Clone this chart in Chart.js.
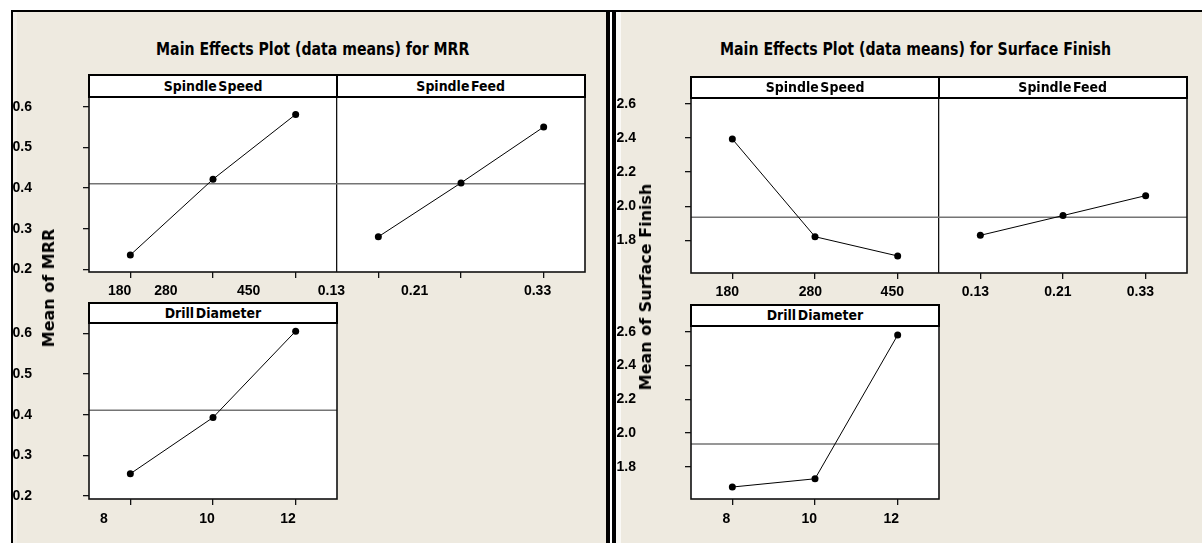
<!DOCTYPE html>
<html><head><meta charset="utf-8">
<script src="https://cdn.jsdelivr.net/npm/chart.js@4/dist/chart.umd.min.js"></script>
<style>
html,body{margin:0;padding:0;background:#fff;}
body{width:1202px;height:543px;overflow:hidden;position:relative;font-family:"DejaVu Sans",sans-serif;}
.abs{position:absolute;box-sizing:border-box;}
#bg{left:11px;top:10px;width:1191px;height:533px;background:#EEEAE0;border-top:2px solid #000;border-left:2px solid #000;z-index:0;}
.strip{z-index:1;}
.hdr{z-index:3;background:#fff;border:2px solid #000;font-weight:bold;font-size:13.5px;text-align:center;color:#000;white-space:nowrap;}
.hdr span{display:inline-block;transform:scaleX(0.93);word-spacing:-3px;}
.title{z-index:3;font-weight:bold;font-size:17px;line-height:17px;height:17px;text-align:center;white-space:nowrap;color:#000;}
.title span{display:inline-block;transform:scaleX(0.83);}
.ytitle{z-index:3;font-weight:bold;font-size:16px;line-height:16px;white-space:nowrap;color:#000;transform:translate(-50%,-50%) rotate(-90deg);}
</style></head>
<body>
<div id="bg" class="abs"></div>
<div class="abs strip" style="left:13px;top:12px;width:4px;height:531px;background:#F3F0EA"></div>
<div class="abs strip" style="left:606px;top:10px;width:4px;height:533px;background:#000"></div>
<div class="abs strip" style="left:610px;top:12px;width:2px;height:531px;background:#fff"></div>
<div class="abs strip" style="left:612px;top:10px;width:4px;height:533px;background:#000"></div>
<div class="abs strip" style="left:616px;top:12px;width:5px;height:531px;background:#FAF9F6"></div>
<script>
// ---------------- data ----------------
const factorNames = ['Spindle Speed', 'Spindle Feed', 'Drill Diameter'];
const speedLevels = ['180', '280', '450'];
const feedLevels = ['0.13', '0.21', '0.33'];
const diameterLevels = ['8', '10', '12'];

const mrrSpeed = [0.235, 0.422, 0.582];
const mrrFeed = [0.280, 0.413, 0.551];
const mrrDiameter = [0.255, 0.393, 0.605];
const mrrMean = 0.411;
const mrrTicks = [0.2, 0.3, 0.4, 0.5, 0.6];

const sfSpeed = [2.394, 1.821, 1.708];
const sfFeed = [1.829, 1.945, 2.062];
const sfDiameter = [1.679, 1.728, 2.581];
const sfMean = 1.935;
const sfTicks = [1.8, 2.0, 2.2, 2.4, 2.6];

const titleMRR = 'Main Effects Plot (data means) for MRR';
const titleSF = 'Main Effects Plot (data means) for Surface Finish';
const yTitleMRR = 'Mean of MRR';
const yTitleSF = 'Mean of Surface Finish';

// ---------------- layout (positions of the misplaced level labels, in axis units) ----------------
const layout = {
  mrrTopLabelAt: [0.870, 1.431, 2.432, 3.433, 4.439, 5.926],
  mrrBotLabelAt: [0.681, 1.927, 2.907],
  sfTopLabelAt: [0.939, 1.944, 2.935, 3.940, 4.938, 5.937],
  sfBotLabelAt: [0.927, 1.930, 2.923]
};

Chart.defaults.font.family = '"Liberation Sans", Arial, sans-serif';
Chart.defaults.font.weight = 'bold';
Chart.defaults.font.size = 14;
Chart.defaults.color = '#000';

const plotBox = {
  id: 'plotBox',
  beforeDraw(chart) {
    const {ctx, chartArea: a} = chart;
    ctx.save(); ctx.fillStyle = '#fff';
    ctx.fillRect(a.left, a.top, a.right - a.left, a.bottom - a.top);
    ctx.restore();
  },
  afterDraw(chart) {
    const {ctx, chartArea: a} = chart;
    ctx.save(); ctx.strokeStyle = '#111'; ctx.lineWidth = 1.6;
    ctx.strokeRect(a.left, a.top, a.right - a.left, a.bottom - a.top);
    ctx.restore();
  }
};

function addDiv(cls, style, text) {
  const d = document.createElement('div');
  d.className = 'abs ' + cls;
  d.style.cssText = style;
  const s = document.createElement('span');
  s.textContent = text;
  d.appendChild(s);
  document.body.appendChild(d);
  return d;
}

function noPad(s) { s.paddingTop = 0; s.paddingBottom = 0; s.paddingLeft = 0; s.paddingRight = 0; }

function makeRow(cfg) {
  const r = cfg.rect, a = cfg.area;
  const cv = document.createElement('canvas');
  cv.width = r.w; cv.height = r.h;
  cv.style.cssText = `position:absolute;left:${r.x}px;top:${r.y}px;width:${r.w}px;height:${r.h}px;z-index:2;`;
  document.body.appendChild(cv);
  const nPanels = cfg.panels.length;
  const xMin = 0.5, xMax = nPanels * 3 + 0.5;
  const pointTicks = [];
  const dividers = [];
  const datasets = [];
  cfg.panels.forEach((vals, pi) => {
    datasets.push({
      data: vals.map((v, i) => ({x: pi * 3 + i + 1, y: v})),
      borderColor: '#000', backgroundColor: '#000', borderWidth: 1,
      pointRadius: 3.5, pointBorderWidth: 0, pointHoverRadius: 3.5, order: 1, clip: false
    });
    vals.forEach((v, i) => pointTicks.push(pi * 3 + i + 1));
    if (pi > 0) dividers.push(pi * 3 + 0.5);
  });
  datasets.push({
    data: [{x: xMin, y: cfg.mean}, {x: xMax, y: cfg.mean}],
    borderColor: '#747474', borderWidth: 1.5, pointRadius: 0, pointHoverRadius: 0, order: 2
  });
  const xTickVals = pointTicks.concat(dividers).sort((p, q) => p - q);
  new Chart(cv, {
    type: 'line',
    data: {datasets},
    plugins: [plotBox],
    options: {
      responsive: false, animation: false, devicePixelRatio: 1, events: [],
      layout: {padding: {left: 0, top: a.top - r.y, right: r.x + r.w - a.right, bottom: 0}},
      plugins: {legend: {display: false}, tooltip: {enabled: false}, title: {display: false}},
      scales: {
        y: {
          type: 'linear', position: 'left', min: cfg.yMin, max: cfg.yMax,
          afterFit: s => { s.width = a.left - r.x; noPad(s); },
          afterBuildTicks: s => { s.ticks = cfg.yTicks.map(v => ({value: v})); },
          ticks: {padding: cfg.yPad, callback: v => Number(v).toFixed(1), autoSkip: false},
          grid: {drawOnChartArea: false, drawTicks: true, tickLength: 6, color: '#111', lineWidth: 1.3},
          border: {display: false}
        },
        x: {
          type: 'linear', position: 'bottom', min: xMin, max: xMax, weight: 0,
          afterFit: s => { s.height = 6; noPad(s); },
          afterBuildTicks: s => { s.ticks = xTickVals.map(v => ({value: v})); },
          ticks: {display: false, autoSkip: false},
          grid: {
            drawOnChartArea: true, drawTicks: true, tickLength: 6, lineWidth: 1.3,
            color: c => (c.tick && dividers.includes(c.tick.value)) ? '#111' : 'rgba(0,0,0,0)',
            tickColor: c => (c.tick && dividers.includes(c.tick.value)) ? 'rgba(0,0,0,0)' : '#111'
          },
          border: {display: false}
        },
        xl: {
          type: 'linear', position: 'bottom', min: xMin, max: xMax, weight: 1,
          afterFit: s => { s.height = r.y + r.h - a.bottom - 6; noPad(s); },
          afterBuildTicks: s => { s.ticks = cfg.labelAt.map(v => ({value: v})); },
          ticks: {padding: cfg.xPad, autoSkip: false, maxRotation: 0, minRotation: 0,
                  callback: (v, i) => cfg.labels[i]},
          grid: {display: false, drawTicks: false},
          border: {display: false}
        }
      }
    }
  });
  // strip headers
  cfg.panels.forEach((vals, pi) => {
    const pw = (a.right - a.left) / nPanels;
    const hl = a.left + pi * pw - 1, hr = a.left + (pi + 1) * pw + 1;
    const ht = cfg.hdrTop, hb = a.top + 1;
    addDiv('hdr', `left:${hl}px;top:${ht}px;width:${hr - hl}px;height:${hb - ht}px;line-height:${hb - ht - 4}px;`, cfg.headers[pi]);
  });
}

const mrrY = {yMin: 0.193, yMax: 0.625, yTicks: mrrTicks, mean: mrrMean, yPad: 51};
const sfY = {yMin: 1.608, yMax: 2.635, yTicks: sfTicks, mean: sfMean, yPad: 49};

makeRow(Object.assign({}, mrrY, {
  rect: {x: 13, y: 80, w: 587, h: 230}, area: {left: 89, top: 97, right: 585, bottom: 272},
  panels: [mrrSpeed, mrrFeed], headers: [factorNames[0], factorNames[1]], hdrTop: 74,
  labels: speedLevels.concat(feedLevels), labelAt: layout.mrrTopLabelAt, xPad: 5
}));
makeRow(Object.assign({}, mrrY, {
  rect: {x: 13, y: 310, w: 340, h: 233}, area: {left: 89, top: 323, right: 337, bottom: 499},
  panels: [mrrDiameter], headers: [factorNames[2]], hdrTop: 302,
  labels: diameterLevels, labelAt: layout.mrrBotLabelAt, xPad: 6
}));
makeRow(Object.assign({}, sfY, {
  rect: {x: 616, y: 80, w: 586, h: 230}, area: {left: 691, top: 98, right: 1187, bottom: 273},
  panels: [sfSpeed, sfFeed], headers: [factorNames[0], factorNames[1]], hdrTop: 76,
  labels: speedLevels.concat(feedLevels), labelAt: layout.sfTopLabelAt, xPad: 5
}));
makeRow(Object.assign({}, sfY, {
  rect: {x: 616, y: 310, w: 340, h: 233}, area: {left: 691, top: 326, right: 939, bottom: 499},
  panels: [sfDiameter], headers: [factorNames[2]], hdrTop: 304,
  labels: diameterLevels, labelAt: layout.sfBotLabelAt, xPad: 6
}));

// titles
addDiv('title', 'left:13px;width:600px;top:41px;', titleMRR);
addDiv('title', 'left:616px;width:600px;top:41px;', titleSF);
addDiv('ytitle', 'left:49px;top:288px;', yTitleMRR);
addDiv('ytitle', 'left:646px;top:287px;', yTitleSF);
</script>
</body></html>
